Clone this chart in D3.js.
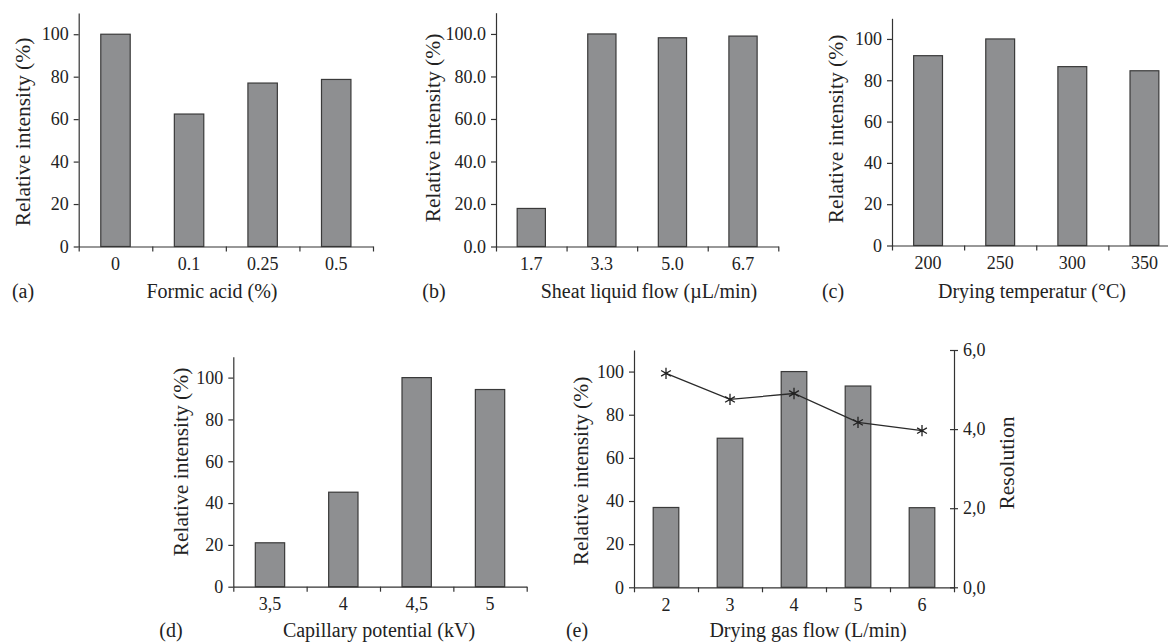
<!DOCTYPE html>
<html>
<head>
<meta charset="utf-8">
<script src="https://cdn.jsdelivr.net/npm/d3@7"></script>
<style>
  html, body { margin: 0; padding: 0; background: #fff; }
  svg text { font-family: "Liberation Serif", "Times New Roman", serif; fill: #222; }
</style>
</head>
<body>
<svg id="chart" width="1168" height="643"></svg>
<script>
"use strict";

// data
const formicCats = ["0", "0.1", "0.25", "0.5"];
const formicVals = [100, 62.4, 77, 78.7];

const sheathCats = ["1.7", "3.3", "5.0", "6.7"];
const sheathVals = [17.9, 100, 98.2, 99];

const tempCats = ["200", "250", "300", "350"];
const tempVals = [91.9, 100, 86.6, 84.6];

const capCats = ["3,5", "4", "4,5", "5"];
const capVals = [21, 45.2, 100, 94.3];

const gasCats = ["2", "3", "4", "5", "6"];
const gasVals = [37, 69.1, 100, 93.3, 36.9];
const gasRes = [5.41, 4.75, 4.90, 4.17, 3.96];

const yTicks = [0, 20, 40, 60, 80, 100];
const resTicks = [0, 2, 4, 6];

const svg = d3.select("#chart");
const BAR_FILL = "#8e8f91";
const INK = "#333";

const drawPanel = function(p){
    const g = svg.append("g");
    const n = p.cats.length;

    const x = d3.scaleBand().domain(p.cats).range([p.left, p.right])
        .paddingInner(0.6).paddingOuter(0.3);
    const xb = d3.scaleLinear().domain([0, n]).range([p.left, p.right]);
    const y = d3.scaleLinear().domain([0, 110]).range([p.bottom, p.top]);

    g.selectAll(".bar").data(p.vals).enter().append("rect")
        .attr("x", (d, i) => x(p.cats[i]))
        .attr("y", d => y(d))
        .attr("width", x.bandwidth())
        .attr("height", d => y(0) - y(d))
        .style("fill", BAR_FILL)
        .style("stroke", "#3a3a3a")
        .style("stroke-width", 1.2);

    // x axis: ticks on the category boundaries
    const xa = g.append("g").attr("transform", "translate(0," + p.bottom + ")")
        .call(d3.axisBottom(xb).tickValues(d3.range(n + 1)).tickFormat("").tickSize(5).tickSizeOuter(0));
    xa.select(".domain").attr("stroke", INK).attr("stroke-width", 1.2);
    xa.selectAll(".tick line").attr("stroke", INK).attr("stroke-width", 1.2);

    g.selectAll(".xl").data(p.cats).enter().append("text")
        .attr("x", d => x(d) + x.bandwidth() / 2)
        .attr("y", p.bottom + 23.5)
        .attr("text-anchor", "middle")
        .style("font-size", "18px")
        .text(d => d);

    const ya = g.append("g").attr("transform", "translate(" + p.left + ",0)")
        .call(d3.axisLeft(y).tickValues(yTicks).tickSize(5).tickSizeOuter(0).tickPadding(5)
            .tickFormat(p.yFmt));
    ya.select(".domain").attr("stroke", INK).attr("stroke-width", 1.2);
    ya.selectAll(".tick line").attr("stroke", INK).attr("stroke-width", 1.2);
    ya.selectAll(".tick text").style("font-size", "18px").style("font-family", null).attr("fill", "#222");

    // titles
    g.append("text")
        .attr("x", p.titleX).attr("y", p.bottom + p.titleOff)
        .attr("text-anchor", "middle").style("font-size", "20px")
        .text(p.title);
    g.append("text")
        .attr("x", p.tagX).attr("y", p.bottom + p.titleOff)
        .attr("text-anchor", "middle").style("font-size", "20px")
        .text(p.tag);
    g.append("text")
        .attr("transform", "translate(" + p.yTitleX + "," + p.yTitleY + ") rotate(-90)")
        .attr("dy", "0.35em")
        .attr("text-anchor", "middle").style("font-size", "21.5px")
        .text("Relative intensity (%)");

    return {g: g, x: x, y: y};
};

const fmtInt = d3.format("d");
const fmt1 = d3.format(".1f");

drawPanel({cats: formicCats, vals: formicVals, left: 78.7, right: 373, top: 13, bottom: 246.5, titleOff: 51,
    yFmt: fmtInt, title: "Formic acid (%)", titleX: 212, tag: "(a)", tagX: 23, yTitleX: 22, yTitleY: 132});

drawPanel({cats: sheathCats, vals: sheathVals, left: 496, right: 778.3, top: 12.7, bottom: 246.5, titleOff: 51,
    yFmt: fmt1, title: "Sheat liquid flow (\u00b5L/min)", titleX: 649, tag: "(b)", tagX: 434, yTitleX: 432, yTitleY: 128});

drawPanel({cats: tempCats, vals: tempVals, left: 892, right: 1180.5, top: 18.3, bottom: 245.5, titleOff: 52,
    yFmt: fmtInt, title: "Drying temperatur (\u00b0C)", titleX: 1032, tag: "(c)", tagX: 833, yTitleX: 835, yTitleY: 129});

drawPanel({cats: capCats, vals: capVals, left: 233.3, right: 526.7, top: 356.7, bottom: 586.7, titleOff: 50,
    yFmt: fmtInt, title: "Capillary potential (kV)", titleX: 379, tag: "(d)", tagX: 171, yTitleX: 180, yTitleY: 462});

const pe = drawPanel({cats: gasCats, vals: gasVals, left: 634, right: 954, top: 350, bottom: 587.3, titleOff: 49.5,
    yFmt: fmtInt, title: "Drying gas flow (L/min)", titleX: 808, tag: "(e)", tagX: 577, yTitleX: 580, yTitleY: 471});

// secondary axis for resolution
const yr = d3.scaleLinear().domain([0, 6]).range([587.3, 350]);
const ra = pe.g.append("g").attr("transform", "translate(954,0)")
    .call(d3.axisRight(yr).tickValues(resTicks).tickSize(4).tickSizeOuter(0).tickPadding(5)
        .tickFormat(d => d3.format(".1f")(d).replace(".", ",")));
ra.select(".domain").attr("stroke", INK).attr("stroke-width", 1.2);
ra.selectAll(".tick line").attr("x1", -4).attr("x2", 4).attr("stroke", INK).attr("stroke-width", 1.2);
ra.selectAll(".tick text").style("font-size", "18px").style("font-family", null).attr("fill", "#222");

pe.g.append("text")
    .attr("transform", "translate(1006,463) rotate(-90)")
    .attr("dy", "0.35em")
    .attr("text-anchor", "middle").style("font-size", "21.5px")
    .text("Resolution");

const line = d3.line()
    .x((d, i) => pe.x(gasCats[i]) + pe.x.bandwidth() / 2)
    .y(d => yr(d));

pe.g.append("path").datum(gasRes)
    .attr("d", line)
    .attr("fill", "none")
    .attr("stroke", "#2a2a2a")
    .attr("stroke-width", 1.3);

pe.g.selectAll(".mk").data(gasRes).enter().append("path")
    .attr("transform", (d, i) => "translate(" + (pe.x(gasCats[i]) + pe.x.bandwidth() / 2) + "," + yr(d) + ")")
    .attr("d", d3.symbol().type(d3.symbolAsterisk).size(90))
    .attr("fill", "none")
    .attr("stroke", "#222")
    .attr("stroke-width", 1.3);
</script>
</body>
</html>
